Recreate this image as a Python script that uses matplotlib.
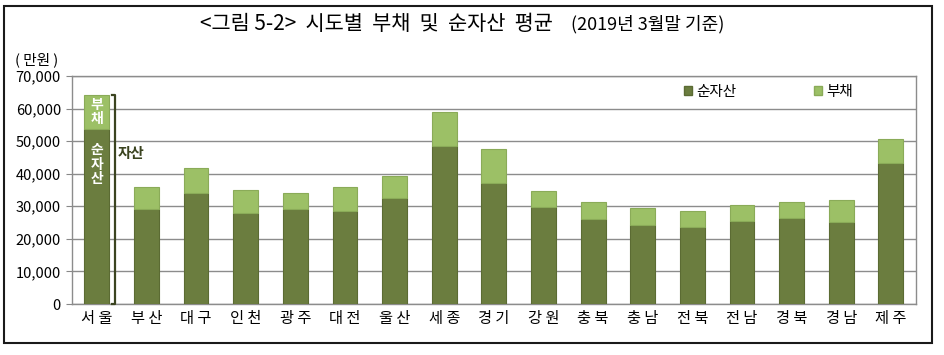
import matplotlib
matplotlib.use("Agg")
import matplotlib.pyplot as plt
from matplotlib.patches import Rectangle, Patch
import numpy as np

plt.rcParams['font.family'] = ['Noto Sans CJK KR', 'DejaVu Sans']

regions = ['서울', '부산', '대구', '인천', '광주', '대전', '울산', '세종', '경기',
           '강원', '충북', '충남', '전북', '전남', '경북', '경남', '제주']
net_assets = [53800, 29200, 34100, 28000, 29200, 28600, 32600, 48600, 37200,
              29700, 26100, 24300, 23700, 25600, 26400, 25300, 43300]
total_assets = [64200, 35800, 41900, 35100, 34200, 35800, 39200, 58800, 47500,
                34800, 31200, 29400, 28700, 30300, 31300, 32000, 50600]
debt = [t - n for t, n in zip(total_assets, net_assets)]
yticks = [0, 10000, 20000, 30000, 40000, 50000, 60000, 70000]

c_net = '#6b7d3f'
c_debt = '#9cc066'

fig = plt.figure(figsize=(9.45, 3.55), dpi=100)
W, H = 945, 355
ax = fig.add_axes([72 / W, 1 - 304 / H, (915.7 - 72) / W, (304 - 76) / H])

x = np.arange(len(regions))
ax.bar(x, net_assets, width=0.5, color=c_net, edgecolor='#5b6b33', linewidth=0.8, zorder=3)
ax.bar(x, debt, bottom=net_assets, width=0.5, color=c_debt, edgecolor='#8aab58',
       linewidth=0.8, zorder=3)

ax.set_xlim(-0.5, len(regions) - 0.5)
ax.set_ylim(0, 70000)
ax.set_yticks(yticks)
ax.set_yticklabels([f'{v:,}' for v in yticks], fontsize=10.5)
ax.set_xticks(x)
ax.set_xticklabels([' '.join(r) for r in regions], fontsize=11)
ax.tick_params(axis='x', length=0, pad=4)
ax.tick_params(axis='y', length=4, color='#888888', pad=4)
ax.yaxis.grid(True, color='#8c8c8c', linewidth=1.0, zorder=0)
ax.set_axisbelow(True)
for s in ax.spines.values():
    s.set_color('#8c8c8c')
    s.set_linewidth(1.0)

# bracket for Seoul total assets
bx = 0.37
ax.plot([bx - 0.06, bx, bx, bx - 0.06], [total_assets[0], total_assets[0], 0, 0],
        color='#3b4420', linewidth=1.6, zorder=4, clip_on=False)
ax.text(bx + 0.06, 46400, '자산', fontsize=10.5, fontweight='bold', color='#3b4420',
        va='center', ha='left')
ax.text(0, (net_assets[0] + total_assets[0]) / 2, '부\n채', color='white', fontsize=10,
        fontweight='bold', ha='center', va='center', linespacing=1.05, zorder=5)
ax.text(0, 42700, '순\n자\n산', color='white', fontsize=10, fontweight='bold',
        ha='center', va='center', linespacing=1.05, zorder=5)

handles = [Patch(facecolor=c_net, edgecolor='#5b6b33'), Patch(facecolor=c_debt, edgecolor='#8aab58')]
ax.legend(handles, ['순자산', '부채'], ncol=2, frameon=False, fontsize=10.5,
          loc='center left', bbox_to_anchor=((684 - 72) / (915.7 - 72), (304 - 92) / 228),
          handlelength=0.55, handleheight=0.55, handletextpad=0.3, columnspacing=5.3,
          borderpad=0, borderaxespad=0)

fig.text(15 / W, 1 - 60 / H, '( 만원 )', fontsize=10.5, ha='left', va='center')

# title
fig.text(200 / W, 1 - 24 / H, '<그림 5-2>  시도별  부채  및  순자산  평균', fontsize=15,
         ha='left', va='center')
fig.text(571 / W, 1 - 24 / H, '(2019년 3월말 기준)', fontsize=13, ha='left', va='center')

# outer frame
fig.patches.append(Rectangle((4 / W, 1 - 343 / H), (932 - 4) / W, (343 - 6) / H,
                             transform=fig.transFigure, fill=False, edgecolor='#1a1a1a',
                             linewidth=1.5))

fig.savefig('out.png', dpi=100)
